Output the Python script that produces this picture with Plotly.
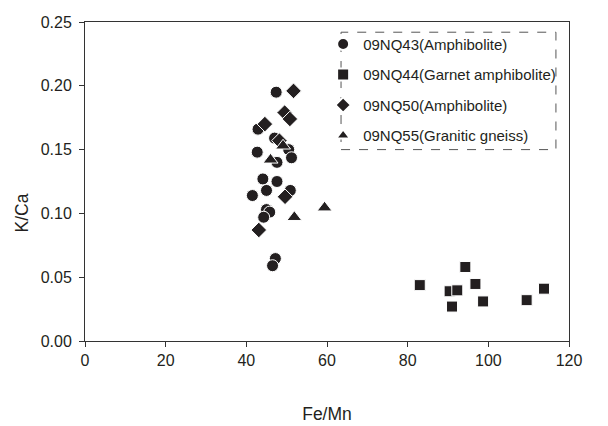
import plotly.graph_objects as go

# ---- data (Fe/Mn, K/Ca) ----
nq43_fe_mn = [47.4, 42.9, 47.0, 50.5, 51.2, 42.7, 47.6, 44.1, 47.6, 41.5, 45.0, 50.9, 45.0, 45.8, 44.3, 47.2, 46.5]
nq43_k_ca = [0.195, 0.166, 0.159, 0.150, 0.1436, 0.148, 0.140, 0.127, 0.125, 0.114, 0.118, 0.118, 0.103, 0.101, 0.097, 0.0646, 0.059]

nq44_fe_mn = [83.0, 94.3, 90.4, 92.3, 96.8, 91.0, 98.7, 109.5, 113.8]
nq44_k_ca = [0.0438, 0.058, 0.039, 0.0397, 0.0447, 0.027, 0.031, 0.032, 0.041]

nq50_fe_mn = [51.7, 49.5, 50.8, 44.6, 48.2, 49.6, 43.1]
nq50_k_ca = [0.196, 0.179, 0.174, 0.170, 0.157, 0.113, 0.087]

nq55_fe_mn = [49.1, 46.0, 51.9, 59.4]
nq55_k_ca = [0.153, 0.142, 0.097, 0.1045]

x_ticks = [0, 20, 40, 60, 80, 100, 120]
y_ticks = [0.00, 0.05, 0.10, 0.15, 0.20, 0.25]

INK = "#231f20"
FONT = "Liberation Sans, Arial, sans-serif"

series = [
    ("09NQ43(Amphibolite)", nq43_fe_mn, nq43_k_ca, "circle", 12),
    ("09NQ44(Garnet amphibolite)", nq44_fe_mn, nq44_k_ca, "square", 11),
    ("09NQ50(Amphibolite)", nq50_fe_mn, nq50_k_ca, "diamond", 12),
    ("09NQ55(Granitic gneiss)", nq55_fe_mn, nq55_k_ca, "triangle-up", 13),
]

fig = go.Figure()
for i, (name, xs, ys, sym, sz) in enumerate(series):
    fig.add_trace(go.Scatter(
        x=xs, y=ys, mode="markers", name=name, legendgroup=str(i),
        marker=dict(symbol=sym, size=sz, color=INK, line=dict(color="white", width=1)),
    ))

axis_common = dict(
    showline=True, linecolor="#333333", linewidth=1, mirror=True,
    ticks="outside", ticklen=5, tickcolor="#333333", tickwidth=1,
    showgrid=False, zeroline=False, ticklabeloverflow="allow",
    tickfont=dict(family=FONT, size=16, color=INK),
)

fig.update_xaxes(range=[0, 120], tickvals=x_ticks, ticklabelstandoff=0,
                 title=dict(text="Fe/Mn", font=dict(family=FONT, size=17.5, color=INK), standoff=39),
                 **axis_common)
fig.update_yaxes(range=[0, 0.25], tickvals=y_ticks, tickformat=".2f", ticklabelstandoff=4,
                 **axis_common)

# y-axis title (placed like the original, slightly below the axis middle)
fig.add_annotation(text="K/Ca", xref="paper", yref="paper", x=-0.13, y=0.40,
                   xanchor="center", yanchor="middle", textangle=-90, showarrow=False,
                   font=dict(family=FONT, size=17.5, color=INK))

fig.add_shape(type="rect", xref="paper", yref="paper",
              x0=0.529, x1=0.973, y0=0.60, y1=0.968,
              line=dict(color="#555555", width=1, dash="dash"))

fig.update_layout(
    width=600, height=418,
    margin=dict(l=77, r=39, t=6, b=84),
    paper_bgcolor="white", plot_bgcolor="white",
    font=dict(family=FONT, size=15, color=INK),
    legend=dict(x=0.492, y=0.982, xanchor="left", yanchor="top",
                bgcolor="rgba(0,0,0,0)", borderwidth=0,
                tracegroupgap=8, itemsizing="constant",
                font=dict(family=FONT, size=15, color=INK)),
)

fig.write_html("out.html")
